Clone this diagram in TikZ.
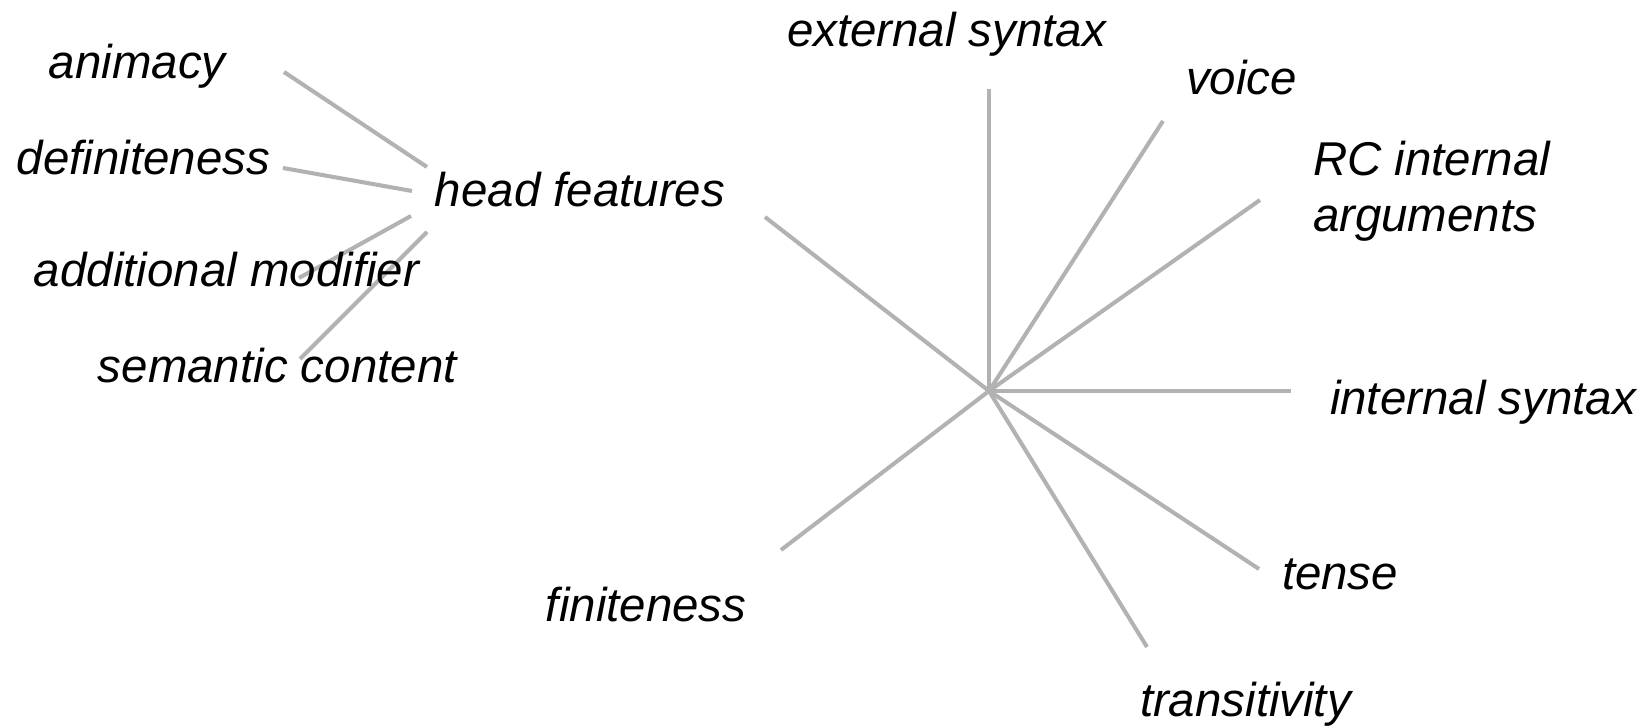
\documentclass[tikz,border=0pt]{standalone}
\usepackage{fontspec}
\setmainfont{Liberation Sans}
\usepackage{tikz}
\usetikzlibrary{calc}
\tikzset{
every picture/.style={line width=2.3pt},
%%%%%%%%%%  Node styles
feature/.style={anchor=base west, inner sep=0pt, outer sep=0pt,
                font=\fontsize{27}{32}\selectfont\itshape, text=black},
%%%% line styles:
spoke/.style={draw=black!30, line cap=butt},
}
\begin{document}
\begin{tikzpicture}
\useasboundingbox (-19.78,-6.74) rectangle (13.22,7.82);
%%%%%%% the hub and the ends of its spokes
\coordinate (hub) at (0,0);
\coordinate (ext end) at (0,6.04);
\coordinate (voice end) at (3.48,5.40);
\coordinate (rc end) at (5.42,3.82);
\coordinate (int end) at (6.04,0);
\coordinate (tense end) at (5.40,-3.56);
\coordinate (trans end) at (3.16,-5.12);
\coordinate (fin end) at (-4.16,-3.18);
\coordinate (head end) at (-4.48,3.48);
%%%%%%% ends of the head feature lines
\coordinate (anim a) at (-11.24,4.48);
\coordinate (anim b) at (-14.10,6.38);
\coordinate (def a) at (-11.54,4.00);
\coordinate (def b) at (-14.12,4.46);
\coordinate (mod a) at (-11.56,3.50);
\coordinate (mod b) at (-13.80,2.26);
\coordinate (sem a) at (-11.24,3.18);
\coordinate (sem b) at (-13.78,0.64);
\draw[spoke] (hub) -- (ext end);
\draw[spoke] (hub) -- (voice end);
\draw[spoke] (hub) -- (rc end);
\draw[spoke] (hub) -- (int end);
\draw[spoke] (hub) -- (tense end);
\draw[spoke] (hub) -- (trans end);
\draw[spoke] (hub) -- (fin end);
\draw[spoke] (hub) -- (head end);
\draw[spoke] (anim a) -- (anim b);
\draw[spoke] (def a) -- (def b);
\draw[spoke] (mod a) -- (mod b);
\draw[spoke] (sem a) -- (sem b);
%%%%%%% labels
\node[feature] (ext) at (-4.04,6.88) {external syntax};
\node[feature] (voice) at (3.94,5.92) {voice};
\node[feature, align=left] (rc) at (6.48,3.18) {RC internal\\arguments};
\node[feature] (int) at (6.82,-0.48) {internal syntax};
\node[feature] (tense) at (5.86,-3.98) {tense};
\node[feature] (trans) at (3.02,-6.52) {transitivity};
\node[feature] (fin) at (-8.86,-4.62) {finiteness};
\node[feature] (head) at (-11.08,3.68) {head features};
\node[feature] (anim) at (-18.80,6.24) {animacy};
\node[feature] (def) at (-19.44,4.32) {definiteness};
\node[feature] (mod) at (-19.10,2.08) {additional modifier};
\node[feature] (sem) at (-17.82,0.16) {semantic content};
\end{tikzpicture}
\end{document}
